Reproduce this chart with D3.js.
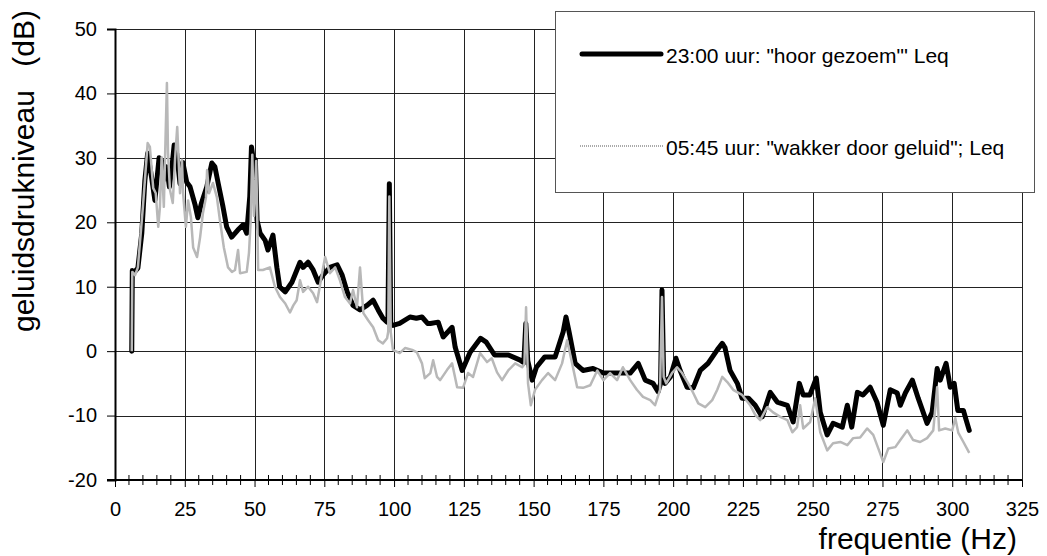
<!DOCTYPE html>
<html>
<head>
<meta charset="utf-8">
<script src="https://cdn.jsdelivr.net/npm/d3@7"></script>
<style>
  body { margin: 0; background: #fff; }
  text { font-family: "Liberation Sans", Arial, sans-serif; fill: #000; }
</style>
</head>
<body>
<div id="chart"></div>
<script>
// 23:00 uur: "hoor gezoem" Leq
const freq2300 = [6.0, 6.2, 7.0, 8.2, 9.6, 10.7, 11.7, 13.1, 14.3, 15.8, 16.7, 17.3, 18.5, 19.5, 20.3, 21.2, 22.1, 23.3, 24.3, 25.7,
  26.9, 28.7, 29.7, 31.0, 32.9, 34.7, 35.8, 37.0, 38.7, 40.0, 41.8, 44.0, 45.9, 47.2, 48.3, 48.9, 49.6, 50.3, 50.9, 52.0,
  53.8, 54.8, 56.6, 58.0, 59.0, 61.0, 63.4, 66.3, 67.4, 69.2, 71.0, 72.8, 74.5, 77.0, 79.6, 81.4, 83.2, 85.3, 87.8, 90.3,
  92.5, 94.3, 96.0, 97.5, 97.8, 98.3, 98.8, 99.6, 102.0, 105.7, 108.0, 110.0, 112.0, 113.0, 115.8, 117.6, 120.8, 121.9, 124.4, 127.2,
  131.0, 133.0, 136.0, 141.0, 145.2, 146.5, 147.2, 147.9, 149.5, 151.0, 154.0, 157.7, 160.6, 161.6, 162.7, 164.9, 167.7, 171.3, 175.0, 180.0,
  184.6, 187.5, 190.0, 192.8, 194.6, 195.5, 196.0, 196.6, 197.1, 199.0, 201.0, 202.5, 205.0, 207.2, 209.7, 212.5, 215.8, 217.6, 218.6, 220.4,
  223.0, 224.7, 227.0, 229.4, 231.9, 234.8, 237.3, 240.9, 243.0, 245.2, 246.6, 249.0, 251.3, 252.7, 255.2, 257.3, 260.6, 262.4, 264.0, 266.0,
  268.0, 270.6, 273.0, 275.3, 277.8, 280.3, 281.4, 283.2, 285.7, 287.8, 291.0, 292.8, 294.6, 295.7, 297.8, 299.3, 300.7, 302.0, 304.0, 305.0, 306.1];
const leq2300 = [0, 12.5, 12.3, 12.9, 18.3, 26.5, 30.7, 27, 23.4, 30, 29.6, 26.5, 28.6, 25.5, 28.1, 32, 30.7, 26, 29.3, 26.2,
  25.5, 22.7, 20.7, 23, 25.5, 29.2, 28.6, 26, 22.4, 19.3, 17.7, 18.8, 19.6, 18.3, 24, 31.7, 29.5, 29.7, 20.3, 18.3,
  17.2, 15.7, 18, 13, 10, 9.2, 10.7, 13.8, 13, 13.8, 12.6, 10.7, 11.8, 13, 13.4, 11.8, 9.2, 7.1, 6.4, 7.1,
  7.9, 6.4, 5.1, 4.5, 4.5, 26, 4.2, 4, 4.3, 5.3, 5.1, 5.3, 4.3, 4.3, 4.5, 2.2, 3.7, 0.6, -3, -0.2,
  2, 1.4, -0.6, -0.6, -1.4, -1.8, 4.3, -1.5, -4.5, -2.5, -0.9, -0.9, 3, 5.3, 3, -1.9, -3, -2.7, -3.4, -3.4,
  -3.4, -1.9, -4.5, -5, -6.3, -5, 9.5, -4, -5, -4, -1.1, -3, -5.6, -5.7, -3, -1.9, 0.2, 1.2, 0.5, -3,
  -5, -7.3, -7.3, -8.4, -10.2, -6.4, -7.9, -8.4, -11, -5, -6.8, -6.8, -4.2, -9.5, -13, -11.2, -11.8, -8.4, -11.8, -6.4,
  -6.8, -5.6, -7.9, -11.5, -6, -6.5, -8.4, -6.5, -4.5, -7.3, -11.2, -9.5, -2.7, -4.5, -1.9, -5.6, -5, -9.2, -9.2, -10.7, -12.3];

// 05:45 uur: "wakker door geluid" Leq
const freq0545 = [6.0, 6.2, 7.2, 8.2, 10.0, 11.7, 12.5, 13.7, 14.6, 15.5, 16.1, 16.7, 17.5, 18.6, 19.0, 19.7, 20.7, 21.5, 22.3, 23.3,
  24.0, 24.4, 25.4, 26.2, 27.2, 28.0, 29.4, 30.5, 31.5, 32.6, 33.0, 33.7, 35.1, 36.5, 37.6, 39.0, 40.5, 41.9, 43.0, 44.1,
  44.8, 47.2, 48.0, 48.6, 49.2, 49.8, 50.6, 51.3, 53.0, 55.5, 57.3, 59.1, 61.0, 62.7, 63.9, 65.1, 66.3, 67.4, 69.2, 71.0,
  72.4, 74.2, 75.3, 77.0, 78.9, 80.6, 82.4, 84.2, 85.3, 86.7, 87.8, 89.0, 90.7, 92.5, 94.3, 96.0, 97.5, 97.9, 98.3, 98.8,
  99.6, 102.0, 104.0, 106.5, 108.2, 110.0, 111.0, 113.0, 114.0, 115.4, 116.5, 119.0, 120.8, 122.6, 124.7, 126.5, 128.3, 130.8, 133.3, 135.0,
  136.9, 138.7, 140.9, 143.4, 145.9, 146.7, 147.3, 148.0, 149.0, 150.5, 153.0, 155.2, 157.7, 160.2, 162.0, 163.8, 165.6, 167.7, 170.3, 172.8,
  175.0, 177.4, 179.9, 182.0, 184.6, 187.0, 189.2, 191.8, 193.5, 195.3, 196.0, 196.6, 197.5, 199.6, 201.4, 203.2, 205.4, 207.2, 209.0, 211.5,
  214.0, 215.8, 217.6, 219.4, 221.5, 224.7, 227.6, 229.4, 231.2, 233.7, 235.8, 238.4, 240.9, 242.7, 244.4, 245.5, 246.6, 249.1, 250.9, 252.7,
  255.2, 257.3, 259.9, 262.4, 264.5, 267.0, 269.5, 271.7, 273.5, 275.3, 277.1, 279.6, 281.4, 283.9, 286.0, 288.5, 291.0, 293.2, 294.6, 295.3,
  297.5, 300.0, 301.1, 302.2, 304.0, 306.1];
const leq0545 = [0, 12.3, 11.8, 13, 22.4, 32.3, 31.7, 25.3, 24.5, 19.3, 22.4, 30.1, 22.4, 41.6, 30.7, 25, 23, 29.7, 34.8, 24.5,
  29.7, 24.5, 19.3, 23.4, 20.8, 16.1, 14.6, 17.7, 21.4, 23.9, 28.1, 24.5, 26.1, 23.9, 20.3, 16.1, 13, 12.3, 12.6, 15.7,
  12.1, 12.3, 15.2, 20, 30.5, 21, 29.5, 12.6, 12.6, 13, 10, 8.4, 7.4, 6, 7.1, 7.9, 11, 9.2, 10, 9,
  7.6, 12.1, 14.6, 12.1, 13, 11, 8.4, 7.4, 9.5, 6.8, 13, 5.9, 4.8, 3.7, 1.7, 1.2, 2, 3, 24, 3,
  0.2, -0.3, 0.5, 0.2, -0.2, -1.9, -4.2, -3.4, -1.4, -4, -4.5, -2.9, -1.9, -5.6, -5.7, -3.4, -4, -0.3, -1.7, -1.1,
  -3.3, -4.5, -3, -1.9, -2.5, -2, 6.8, -5, -8.4, -6, -4.5, -3.4, -4.5, -1.9, 1.7, -1.9, -5.6, -5.7, -5.3, -3,
  -4.5, -3.4, -4.5, -2.5, -4.5, -6, -7.1, -7.6, -8.4, -6, 8.4, -4, -5, -3.4, -2.5, -3.4, -5, -6.5, -8.1, -8.7,
  -7.6, -6, -4, -4.8, -6, -6.8, -8.4, -9.9, -10.7, -8.7, -9.5, -10.2, -10.7, -12.6, -11.8, -8.4, -12, -11, -7.3, -12.6,
  -15.4, -14.3, -14.1, -14.6, -13.5, -13.4, -12, -13, -15.1, -17.2, -15.1, -14.9, -13.8, -12.3, -13.8, -14.1, -13.5, -12.3, -5.6, -12.3,
  -12, -12.3, -10.4, -12.7, -14.1, -15.8];

const xTicks = [0, 25, 50, 75, 100, 125, 150, 175, 200, 225, 250, 275, 300, 325];
const yTicks = [-20, -10, 0, 10, 20, 30, 40, 50];
const legendLabels = ['23:00 uur: "hoor gezoem"\' Leq', '05:45 uur: "wakker door geluid"; Leq'];

const W = 1047, H = 556;
const margin = { top: 29, right: 25, bottom: 76, left: 115 };

const svg = d3.select("#chart").append("svg")
  .attr("width", W)
  .attr("height", H);

const x = d3.scaleLinear().domain([0, 325]).range([margin.left, W - margin.right]);
const y = d3.scaleLinear().domain([-20, 50]).range([H - margin.bottom, margin.top]);

const x0 = x(0), x1 = x(325), y0 = y(-20), y1 = y(50);

// grid
svg.append("g")
  .selectAll("line")
  .data(yTicks.filter(d => d > -20))
  .join("line")
  .attr("x1", x0).attr("x2", x1)
  .attr("y1", d => Math.round(y(d)) + 0.5).attr("y2", d => Math.round(y(d)) + 0.5)
  .attr("stroke", "#222").attr("stroke-width", 1);

svg.append("g")
  .selectAll("line")
  .data(xTicks.filter(d => d > 0))
  .join("line")
  .attr("x1", d => Math.round(x(d)) + 0.5).attr("x2", d => Math.round(x(d)) + 0.5)
  .attr("y1", y1).attr("y2", y0)
  .attr("stroke", "#222").attr("stroke-width", 1);

// axes (plain hyphen for negatives, like the original)
const yAxis = svg.append("g")
  .attr("transform", `translate(${x0},0)`)
  .call(d3.axisLeft(y).tickValues(yTicks).tickFormat(d => String(d)).tickSize(8).tickPadding(10));
yAxis.select(".domain").attr("stroke-width", 2);
yAxis.selectAll("text").attr("font-size", 20).style("font-family", '"Liberation Sans", Arial, sans-serif');

const xAxis = svg.append("g")
  .attr("transform", `translate(0,${y0})`)
  .call(d3.axisBottom(x).tickValues(xTicks).tickFormat(d => String(d)).tickSize(7).tickPadding(15).tickSizeOuter(0));
xAxis.select(".domain").remove();
xAxis.selectAll("text").attr("font-size", 20).style("font-family", '"Liberation Sans", Arial, sans-serif');

svg.append("line")
  .attr("x1", x0 - 8).attr("x2", x1)
  .attr("y1", y0).attr("y2", y0)
  .attr("stroke", "#000").attr("stroke-width", 2);

// minor ticks every 5 Hz
svg.append("g")
  .selectAll("line")
  .data(d3.range(5, 325, 5).filter(d => d % 25 !== 0))
  .join("line")
  .attr("x1", d => x(d)).attr("x2", d => x(d))
  .attr("y1", y0 - 5).attr("y2", y0 + 5)
  .attr("stroke", "#000").attr("stroke-width", 1);

// series
const line = d3.line()
  .x(d => x(d[0]))
  .y(d => y(d[1]));

svg.append("path")
  .datum(d3.zip(freq2300, leq2300))
  .attr("d", line)
  .attr("fill", "none")
  .attr("stroke", "#000")
  .attr("stroke-width", 5)
  .attr("stroke-linejoin", "round")
  .attr("stroke-linecap", "round");

svg.append("path")
  .datum(d3.zip(freq0545, leq0545))
  .attr("d", line)
  .attr("fill", "none")
  .attr("stroke", "#b8b8b8")
  .attr("stroke-width", 2.5)
  .attr("stroke-linejoin", "round");

// legend
const lg = svg.append("g");
lg.append("rect")
  .attr("x", 555.5).attr("y", 11.5)
  .attr("width", 479).attr("height", 181)
  .attr("fill", "#fff").attr("stroke", "#555").attr("stroke-width", 1);
lg.append("line")
  .attr("x1", 582).attr("x2", 661).attr("y1", 54).attr("y2", 54)
  .attr("stroke", "#000").attr("stroke-width", 5).attr("stroke-linecap", "round");
lg.append("line")
  .attr("x1", 580).attr("x2", 663).attr("y1", 146).attr("y2", 146)
  .attr("stroke", "#aaa").attr("stroke-width", 2).attr("stroke-dasharray", "1,1");
lg.selectAll("text")
  .data(legendLabels)
  .join("text")
  .attr("x", 666)
  .attr("y", (d, i) => i === 0 ? 63 : 155)
  .attr("font-size", 21)
  .text(d => d);

// axis titles
svg.append("text")
  .attr("transform", "translate(34,332) rotate(-90)")
  .attr("font-size", 30)
  .text("geluidsdrukniveau");
svg.append("text")
  .attr("transform", "translate(34,10) rotate(-90)")
  .attr("text-anchor", "end")
  .attr("font-size", 30)
  .text("(dB)");
svg.append("text")
  .attr("x", 1017).attr("y", 549)
  .attr("text-anchor", "end")
  .attr("font-size", 30)
  .text("frequentie (Hz)");
</script>
</body>
</html>
